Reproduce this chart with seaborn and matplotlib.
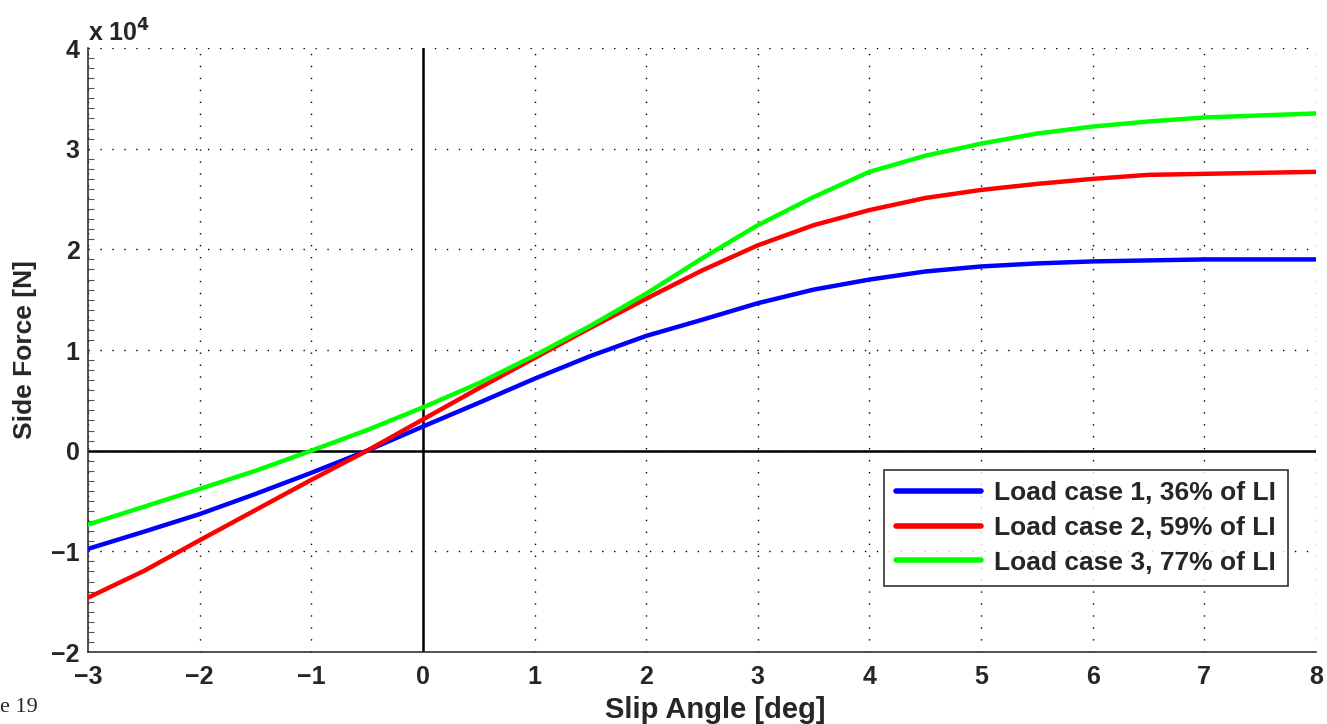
import numpy as np
import pandas as pd
import seaborn as sns
import matplotlib
matplotlib.use("Agg")
import matplotlib.pyplot as plt
from matplotlib.ticker import MultipleLocator, FuncFormatter

# slip angle [deg]
slip = [-3, -2.5, -2, -1.5, -1, -0.5, 0, 0.5, 1, 1.5, 2, 2.5, 3, 3.5,
        4, 4.5, 5, 5.5, 6, 6.5, 7, 7.5, 8]

# side force [N]
case1 = [-9750, -8050, -6300, -4300, -2200, 0, 2400, 4750, 7150, 9400,
         11400, 13000, 14650, 16000, 17000, 17800, 18300, 18600, 18800,
         18900, 19000, 19000, 19000]
case2 = [-14600, -11950, -8900, -5900, -2900, 0, 3100, 6200, 9200, 12200,
         15100, 17900, 20400, 22400, 23900, 25100, 25900, 26500, 27000,
         27400, 27500, 27600, 27700]
case3 = [-7340, -5570, -3800, -2000, 0, 2050, 4300, 6700, 9450, 12400,
         15600, 19100, 22400, 25200, 27700, 29300, 30500, 31500, 32200,
         32700, 33100, 33300, 33500]

labels = ["Load case 1, 36% of LI", "Load case 2, 59% of LI",
          "Load case 3, 77% of LI"]

df = pd.concat([
    pd.DataFrame({"slip": slip, "force": case1, "case": labels[0]}),
    pd.DataFrame({"slip": slip, "force": case2, "case": labels[1]}),
    pd.DataFrame({"slip": slip, "force": case3, "case": labels[2]}),
])

sns.set_style("white")
plt.rcParams["font.family"] = ["Liberation Sans", "DejaVu Sans"]
plt.rcParams["font.weight"] = "bold"

fig = plt.figure(figsize=(13.27, 7.24), dpi=100)
ax = fig.add_axes([0.0663, 0.0994, 0.9254, 0.8343])

# zero lines
ax.axhline(0, color="black", lw=1.8, zorder=1)
ax.axvline(0, color="black", lw=1.8, zorder=1)

sns.lineplot(data=df, x="slip", y="force", hue="case", ax=ax,
             palette=["#0000ff", "#ff0000", "#00ff00"], lw=3.2, zorder=3)

ax.set_xlim(-3, 8)
ax.set_ylim(-20000, 40000)
ax.xaxis.set_major_locator(MultipleLocator(1))
ax.yaxis.set_major_locator(MultipleLocator(10000))
ax.yaxis.set_minor_locator(MultipleLocator(1000))
ax.yaxis.set_major_formatter(FuncFormatter(lambda v, p: f"{v/1e4:.0f}".replace("-", "\u2212")))
ax.xaxis.set_major_formatter(FuncFormatter(lambda v, p: f"{v:.0f}".replace("-", "\u2212")))

ax.grid(True, which="major", color="black", linestyle=(0, (1, 7.6)), lw=1)
for s in ["top", "right"]:
    ax.spines[s].set_visible(False)
for s in ["left", "bottom"]:
    ax.spines[s].set_color("#333333")
    ax.spines[s].set_linewidth(1.2)

ax.tick_params(axis="both", which="major", direction="in", length=12,
               width=1.2, labelsize=18, color="#333333")
ax.tick_params(axis="x", pad=9)
ax.tick_params(axis="y", pad=6)
ax.tick_params(axis="y", which="minor", direction="in", length=4, width=0.8,
               color="#555555", left=True)
for t in ax.get_xticklabels() + ax.get_yticklabels():
    t.set_fontweight("bold")

ax.set_xlabel("Slip Angle [deg]", fontsize=21, fontweight="bold")
ax.xaxis.set_label_coords(0.511, -0.072)
ax.xaxis.label.set_va("top")
ax.set_ylabel("Side Force [N]", fontsize=19, fontweight="bold", labelpad=10)

ax.text(0.0, 1.003, r"x 10$^{\mathbf{4}}$", transform=ax.transAxes,
        fontsize=18, fontweight="bold", ha="left", va="bottom")

leg = ax.legend(loc="upper right", bbox_to_anchor=(0.977, 0.302),
                borderaxespad=0, fontsize=19, handlelength=3.2,
                handletextpad=0.5, frameon=True, fancybox=False,
                edgecolor="black", labelspacing=0.4, borderpad=0.45,
                title=None)
leg.get_frame().set_linewidth(1.2)
for t in leg.get_texts():
    t.set_fontweight("bold")
for h in leg.get_lines():
    h.set_linewidth(4)

fig.text(0.0, 0.017, "e 19", fontsize=16, family="Liberation Serif",
         fontweight="normal", ha="left", va="baseline")

fig.savefig("out.png", dpi=100, facecolor="white")
